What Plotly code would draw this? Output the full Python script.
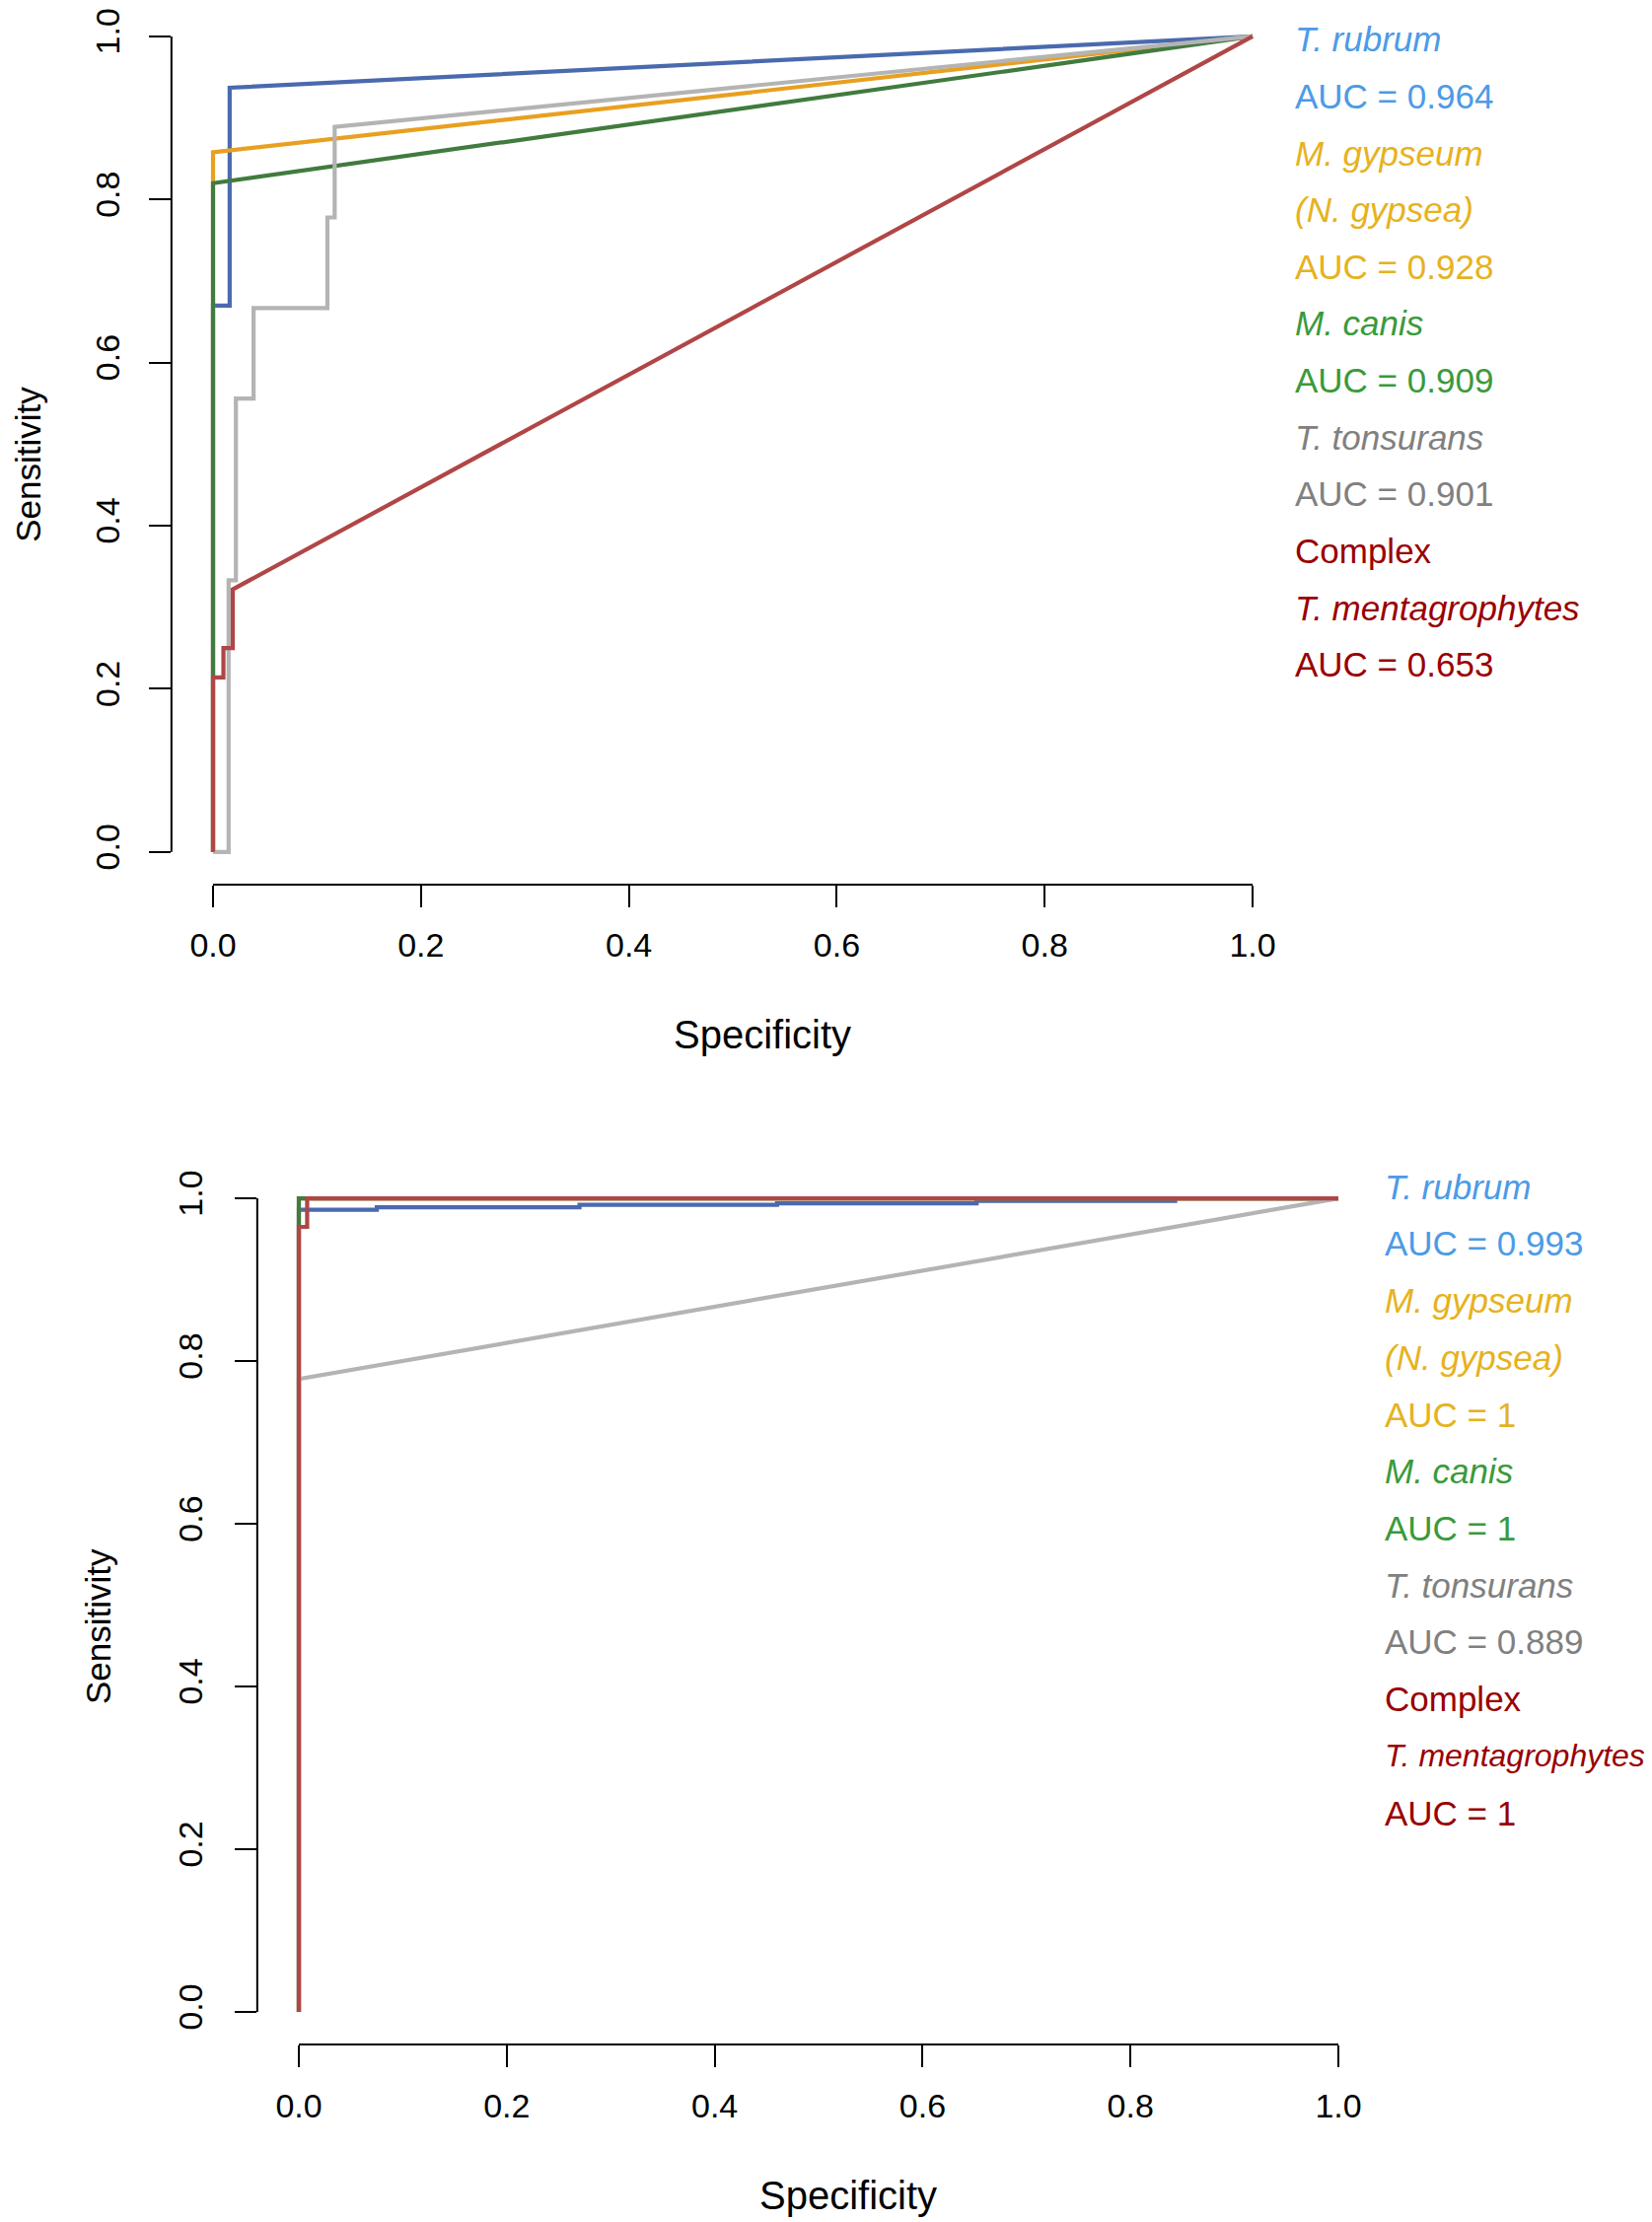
import plotly.graph_objects as go

# The page body has an 8px default margin, so the figure is drawn 8px smaller
# and all pixel positions below are given in page coordinates, then shifted.
PAGE_W, PAGE_H = 1675, 2253
OFF = 8
W, H = PAGE_W - OFF, PAGE_H - OFF
FONT = "Liberation Sans, Arial, Helvetica, sans-serif"

# ---------------- data ----------------
TICK_VALS = [0.0, 0.2, 0.4, 0.6, 0.8, 1.0]
TICK_TEXT = ["0.0", "0.2", "0.4", "0.6", "0.8", "1.0"]

SERIES_NAMES = ["T. rubrum", "M. gypseum (N. gypsea)", "M. canis", "T. tonsurans", "Complex T. mentagrophytes"]
LINE_COLORS = ["#4A6AAE", "#E8A020", "#417B3F", "#B4B4B4", "#B04646"]

# top panel
TOP_RUBRUM_X = [0.0, 0.0, 0.016, 0.016, 1.0]
TOP_RUBRUM_Y = [0.0, 0.670, 0.670, 0.937, 1.0]
TOP_GYPSEUM_X = [0.0, 0.0, 0.0, 1.0]
TOP_GYPSEUM_Y = [0.0, 0.822, 0.858, 1.0]
TOP_CANIS_X = [0.0, 0.0, 1.0]
TOP_CANIS_Y = [0.0, 0.820, 1.0]
TOP_TONSURANS_X = [0.0, 0.015, 0.015, 0.022, 0.022, 0.039, 0.039, 0.110, 0.110, 0.117, 0.117, 1.0]
TOP_TONSURANS_Y = [0.0, 0.0, 0.333, 0.333, 0.556, 0.556, 0.667, 0.667, 0.778, 0.778, 0.889, 1.0]
TOP_COMPLEX_X = [0.0, 0.0, 0.010, 0.010, 0.019, 0.019, 1.0]
TOP_COMPLEX_Y = [0.0, 0.214, 0.214, 0.250, 0.250, 0.322, 1.0]

# bottom panel
BOT_RUBRUM_X = [0.0, 0.0, 0.075, 0.075, 0.27, 0.27, 0.46, 0.46, 0.652, 0.652, 0.843, 0.843, 1.0]
BOT_RUBRUM_Y = [0.0, 0.986, 0.986, 0.989, 0.989, 0.992, 0.992, 0.994, 0.994, 0.997, 0.997, 1.0, 1.0]
BOT_GYPSEUM_X = [0.0, 0.0, 1.0]
BOT_GYPSEUM_Y = [0.0, 1.0, 1.0]
BOT_CANIS_X = [0.0, 0.0, 1.0]
BOT_CANIS_Y = [0.0, 1.0, 1.0]
BOT_TONSURANS_X = [0.0, 0.0, 1.0]
BOT_TONSURANS_Y = [0.0, 0.778, 1.0]
BOT_COMPLEX_X = [0.0, 0.0, 0.008, 0.008, 1.0]
BOT_COMPLEX_Y = [0.0, 0.965, 0.965, 1.0, 1.0]

# legend texts
TOP_LEGEND = ["<i>T. rubrum</i>", "AUC = 0.964", "<i>M. gypseum</i>", "<i>(N. gypsea)</i>", "AUC = 0.928",
              "<i>M. canis</i>", "AUC = 0.909", "<i>T. tonsurans</i>", "AUC = 0.901", "Complex",
              "<i>T. mentagrophytes</i>", "AUC = 0.653"]
BOT_LEGEND = ["<i>T. rubrum</i>", "AUC = 0.993", "<i>M. gypseum</i>", "<i>(N. gypsea)</i>", "AUC = 1",
              "<i>M. canis</i>", "AUC = 1", "<i>T. tonsurans</i>", "AUC = 0.889", "Complex",
              "<i>T. mentagrophytes</i>", "AUC = 1"]
LEGEND_COLORS = ["#4C9BE6", "#4C9BE6", "#E6B220", "#E6B220", "#E6B220", "#3A9A3A", "#3A9A3A",
                 "#808080", "#808080", "#990000", "#990000", "#990000"]

# ---------------- layout geometry (page pixels) ----------------
TOP = dict(x0=216 - OFF, xu=1054, y0=857 - OFF, yu=831)
BOT = dict(x0=303 - OFF, xu=1054, y0=2039 - OFF, yu=829)

fig = go.Figure()

top_sets = [(TOP_RUBRUM_X, TOP_RUBRUM_Y), (TOP_GYPSEUM_X, TOP_GYPSEUM_Y), (TOP_CANIS_X, TOP_CANIS_Y),
            (TOP_TONSURANS_X, TOP_TONSURANS_Y), (TOP_COMPLEX_X, TOP_COMPLEX_Y)]
bot_sets = [(BOT_RUBRUM_X, BOT_RUBRUM_Y), (BOT_GYPSEUM_X, BOT_GYPSEUM_Y), (BOT_CANIS_X, BOT_CANIS_Y),
            (BOT_TONSURANS_X, BOT_TONSURANS_Y), (BOT_COMPLEX_X, BOT_COMPLEX_Y)]

for (xs, ys), name, col in zip(top_sets, SERIES_NAMES, LINE_COLORS):
    fig.add_trace(go.Scatter(x=xs, y=ys, mode="lines", name=name, xaxis="x", yaxis="y",
                             line=dict(color=col, width=4.2), showlegend=False, hoverinfo="skip"))
for (xs, ys), name, col in zip(bot_sets, SERIES_NAMES, LINE_COLORS):
    fig.add_trace(go.Scatter(x=xs, y=ys, mode="lines", name=name, xaxis="x2", yaxis="y2",
                             line=dict(color=col, width=4.2), showlegend=False, hoverinfo="skip"))


def xdom(g):
    return [(g["x0"] - 0.04 * g["xu"]) / W, (g["x0"] + 1.04 * g["xu"]) / W]


def ydom(g):
    bottom_px = g["y0"] + 0.04 * g["yu"]
    top_px = g["y0"] - 1.04 * g["yu"]
    if top_px < 0:
        return [1 - bottom_px / H, 1.0], [-0.04, g["y0"] / g["yu"]]
    return [1 - bottom_px / H, 1 - top_px / H], [-0.04, 1.04]


axis_common = dict(tickvals=TICK_VALS, ticktext=TICK_TEXT, ticks="outside", ticklen=22, tickwidth=2,
                   tickcolor="black", showline=False, showgrid=False, zeroline=False,
                   ticklabeloverflow="allow",
                   tickfont=dict(family=FONT, size=34, color="black"), fixedrange=True)

ty_dom, ty_rng = ydom(TOP)
by_dom, by_rng = ydom(BOT)

fig.update_layout(
    width=W, height=H,
    margin=dict(l=0, r=0, t=0, b=0),
    paper_bgcolor="white", plot_bgcolor="white",
    xaxis=dict(domain=xdom(TOP), range=[-0.04, 1.04], anchor="y", ticklabelstandoff=9, **axis_common),
    yaxis=dict(domain=ty_dom, range=ty_rng, anchor="x", tickangle=-90, ticklabelstandoff=16, **axis_common),
    xaxis2=dict(domain=xdom(BOT), range=[-0.04, 1.04], anchor="y2", ticklabelstandoff=10, **axis_common),
    yaxis2=dict(domain=by_dom, range=by_rng, anchor="x2", tickangle=-90, ticklabelstandoff=19, **axis_common),
)

shapes = []
for xr, yr in [("x", "y"), ("x2", "y2")]:
    shapes.append(dict(type="line", xref=xr + " domain", yref=yr, x0=0, x1=0, y0=0, y1=1,
                       line=dict(color="black", width=2)))
    shapes.append(dict(type="line", xref=xr, yref=yr + " domain", x0=0, x1=1, y0=0, y1=0,
                       line=dict(color="black", width=2)))
fig.update_layout(shapes=shapes)

ann = []


def px_ann(text, xpx, ypx, size, color="black", xanchor="center", angle=0):
    return dict(text=text, x=(xpx - OFF) / W, y=1 - (ypx - OFF) / H, xref="paper", yref="paper",
                showarrow=False, xanchor=xanchor, yanchor="middle", textangle=angle,
                font=dict(family=FONT, size=size, color=color))


# axis titles
ann.append(px_ann("Specificity", 773, 1043, 40))
ann.append(px_ann("Sensitivity", 29, 462, 35, angle=-90))
ann.append(px_ann("Specificity", 860, 2226, 40))
ann.append(px_ann("Sensitivity", 100, 1646, 35, angle=-90))

# legends (top one starts just inside the figure's top edge)
TOP_LEG_X, TOP_LEG_Y, TOP_LEG_STEP = 1311, 29, 57.9
BOT_LEG_X, BOT_LEG_Y, BOT_LEG_STEP = 1402, 1198, 58.0
for i, (t, c) in enumerate(zip(TOP_LEGEND, LEGEND_COLORS)):
    ann.append(px_ann(t, TOP_LEG_X, TOP_LEG_Y + i * TOP_LEG_STEP, 35, c, xanchor="left"))
for i, (t, c) in enumerate(zip(BOT_LEGEND, LEGEND_COLORS)):
    # the long name is set a bit smaller so it fits inside the right edge
    size = 32 if "mentagrophytes" in t else 35
    ann.append(px_ann(t, BOT_LEG_X, BOT_LEG_Y + i * BOT_LEG_STEP, size, c, xanchor="left"))

fig.update_layout(annotations=ann)

fig.write_html("out.html")
